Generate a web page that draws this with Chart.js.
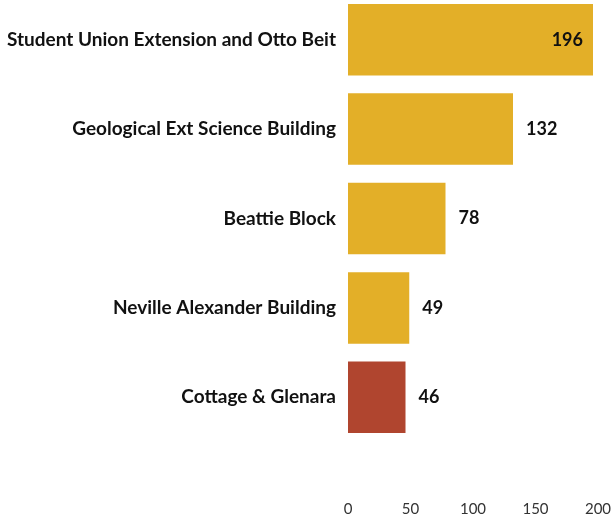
<!DOCTYPE html>
<html>
<head>
<meta charset="utf-8">
<script src="https://cdn.jsdelivr.net/npm/chart.js@4"></script>
<style>
  html, body { margin: 0; padding: 0; background: #fff; overflow: hidden; }
  #chart { position: absolute; left: 0; top: -5px; }
</style>
</head>
<body>
<canvas id="chart" width="614" height="526"></canvas>
<script>
const buildings = [
  'Student Union Extension and Otto Beit',
  'Geological Ext Science Building',
  'Beattie Block',
  'Neville Alexander Building',
  'Cottage & Glenara'
];
const counts = [196, 132, 78, 49, 46];
const barColors = ['#E3AF28', '#E3AF28', '#E3AF28', '#E3AF28', '#B0452F'];
const xTicks = [0, 50, 100, 150, 200];

// value labels: inside the bar when it is near the axis max, otherwise just right of it
const valueLabels = {
  id: 'valueLabels',
  afterDatasetsDraw(chart) {
    const ctx = chart.ctx;
    const meta = chart.getDatasetMeta(0);
    ctx.save();
    ctx.font = 'bold 18px Lato';
    ctx.fillStyle = '#111';
    ctx.textBaseline = 'middle';
    meta.data.forEach((bar, i) => {
      const v = counts[i];
      if (v > 180) {
        ctx.textAlign = 'right';
        ctx.fillText(v, bar.x - 10, bar.y);
      } else {
        ctx.textAlign = 'left';
        ctx.fillText(v, bar.x + 13, bar.y);
      }
    });
    ctx.restore();
  }
};

new Chart(document.getElementById('chart'), {
  type: 'bar',
  data: {
    labels: buildings,
    datasets: [{
      data: counts,
      backgroundColor: barColors,
      borderWidth: 0,
      categoryPercentage: 0.8,
      barPercentage: 1.0
    }]
  },
  options: {
    indexAxis: 'y',
    responsive: false,
    animation: false,
    layout: { padding: { top: 0, right: 16, bottom: 0, left: 0 } },
    plugins: {
      legend: { display: false },
      tooltip: { enabled: false }
    },
    scales: {
      x: {
        min: 0,
        max: 200,
        afterBuildTicks(axis) {
          axis.ticks = xTicks.map(v => ({ value: v }));
        },
        // tick padding would otherwise also shrink the plot (counted twice in height, added at the right)
        afterFit(axis) {
          axis.paddingLeft = 0;
          axis.paddingRight = 0;
          axis.height = 79;
        },
        grid: { display: false, drawTicks: false },
        border: { display: false },
        ticks: {
          padding: 58,
          color: '#333',
          font: { family: 'Lato', size: 15 }
        }
      },
      y: {
        grid: { display: false, drawTicks: false },
        border: { display: false },
        afterFit(axis) {
          axis.width = 348;
          axis.paddingTop = 0;
          axis.paddingBottom = 0;
        },
        ticks: {
          padding: 12,
          color: '#111',
          font: { family: 'Lato', size: 19, weight: 'bold' }
        }
      }
    }
  },
  plugins: [valueLabels]
});
</script>
</body>
</html>
